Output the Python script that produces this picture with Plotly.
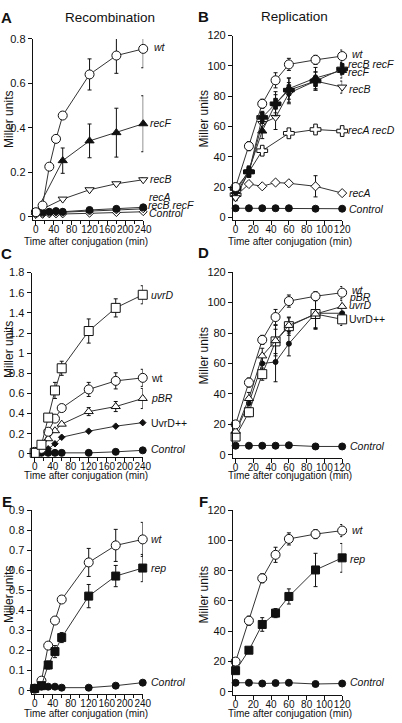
import plotly.graph_objects as go

W, H = 402, 723
FONT = "Liberation Sans, Arial, Helvetica, sans-serif"
INK = "#111111"
LINE = "#333333"

# ---------------- data ----------------
# Panel A : Recombination
tA = [0, 15, 30, 45, 60, 120, 180, 240]
tA_sparse = [0, 60, 120, 180, 240]
A_wt = [0.02, 0.05, 0.225, 0.35, 0.455, 0.64, 0.725, 0.755]
A_wt_err = [0, 0, 0, 0.005, 0.01, 0.07, 0.08, 0.085]
A_recF = [0.02, 0.252, 0.341, 0.378, 0.418]
A_recF_err = [0, 0.057, 0.076, 0.11, 0.126]
A_recB = [0.02, 0.079, 0.121, 0.148, 0.166]
A_recB_err = [0, 0.005, 0.005, 0.005, 0.008]
A_recA = [0.01, 0.015, 0.018, 0.02, 0.02, 0.025, 0.03, 0.035]
A_recBrecF = [0.015, 0.02, 0.022, 0.025, 0.022, 0.03, 0.035, 0.042]
A_control = [0.01, 0.01, 0.012, 0.012, 0.012, 0.015, 0.018, 0.022]

# Panel B : Replication
tB = [0, 15, 30, 45, 60, 90, 120]
tB_recArecD = [0, 15, 30, 60, 90, 120]
B_wt = [20, 47, 75, 90.5, 101, 104, 106.5]
B_wt_err = [1, 3, 3, 5, 4, 3, 4]
B_recBrecF = [19, 30, 66, 75, 84, 90, 98]
B_recBrecF_err = [2, 3, 4, 8, 8, 6, 4]
B_recF = [17, 31, 57, 75, 85, 92, 97]
B_recF_err = [2, 3, 5, 6, 7, 7, 5]
B_recB = [13, 30, 62, 66, 82, 90, 86]
B_recB_err = [2, 3, 4, 8, 7, 6, 4]
B_recArecD = [15, 30, 44, 55.5, 58, 57]
B_recArecD_err = [1, 2, 2, 3, 2, 2]
B_recA = [14, 22, 20.5, 23, 22.5, 20.5, 16]
B_recA_err = [1, 1, 1, 1, 1, 7, 1]
B_control = [6, 6, 6, 6, 6, 5.7, 5.7]

# Panel C
tC = [0, 15, 30, 45, 60, 120, 180, 240]
C_uvrD = [0.01, 0.09, 0.36, 0.63, 0.85, 1.22, 1.45, 1.58]
C_uvrD_err = [0, 0.01, 0.04, 0.08, 0.07, 0.12, 0.09, 0.09]
C_wt = [0.02, 0.05, 0.22, 0.35, 0.455, 0.64, 0.725, 0.755]
C_wt_err = [0, 0, 0.01, 0.01, 0.01, 0.07, 0.08, 0.085]
C_pBR = [0.01, 0.06, 0.15, 0.23, 0.295, 0.42, 0.47, 0.55]
C_pBR_err = [0, 0, 0.01, 0.01, 0.01, 0.04, 0.05, 0.1]
C_uvrDpp = [0.01, 0.02, 0.05, 0.1, 0.165, 0.225, 0.275, 0.31]
C_control = [0.01, 0.01, 0.01, 0.01, 0.01, 0.01, 0.02, 0.035]

# Panel D
tD = [0, 15, 30, 45, 60, 90, 120]
D_wt = [20, 47.5, 75.5, 90.5, 101, 104.2, 106.5]
D_wt_err = [1, 3, 3, 5, 4, 3, 4]
D_pBR = [15.5, 37, 65, 75, 85, 92.5, 97.5]
D_pBR_err = [1, 4, 5, 10, 5, 10, 4]
D_uvrD = [15, 34, 60, 61, 73, 93, 93]
D_uvrD_err = [1, 4, 6, 13, 8, 10, 3]
D_uvrDpp = [12, 28, 53, 74.5, 84.5, 92.5, 89]
D_uvrDpp_err = [1, 3, 4, 8, 6, 9, 4]
D_control = [6, 6, 6, 6, 6.3, 5.5, 5.5]

# Panel E
tE = [0, 15, 30, 45, 60, 120, 180, 240]
E_wt = [0.01, 0.05, 0.225, 0.35, 0.455, 0.64, 0.725, 0.755]
E_wt_err = [0, 0, 0.01, 0.01, 0.01, 0.07, 0.08, 0.085]
E_rep = [0.011, 0.025, 0.128, 0.195, 0.265, 0.472, 0.572, 0.612]
E_rep_err = [0, 0, 0.02, 0.03, 0.025, 0.058, 0.053, 0.068]
E_control = [0.012, 0.02, 0.02, 0.02, 0.015, 0.015, 0.025, 0.04]

# Panel F
tF = [0, 15, 30, 45, 60, 90, 120]
F_wt = [20, 47, 75, 90.5, 101, 104.2, 106.5]
F_wt_err = [1, 3, 3, 5, 4, 3, 4]
F_rep = [14, 27.5, 44.5, 52, 63, 80.5, 88.5]
F_rep_err = [1, 1.5, 4.5, 3, 5, 11, 9.5]
F_control = [6, 6, 5.5, 5.8, 6, 5.2, 5.5]

ticks_long = [0, 40, 80, 120, 160, 200, 240]
ticks_short = [0, 20, 40, 60, 80, 100, 120]

# ---------------- layout helpers ----------------
panels = {
    1: dict(xr=[-7, 240], yr=[-0.015, 0.8], xmax=240, ymax=0.8, px=(36.7, 146.5), py=(213.3, 33.3),
            xt=ticks_long, yt=[0, 0.2, 0.4, 0.6, 0.8], minor=20),
    2: dict(xr=[-3, 120], yr=[-2, 120], xmax=120, ymax=120, px=(241, 350), py=(214, 30),
            xt=ticks_short, yt=ticks_short, minor=None),
    3: dict(xr=[-7, 240], yr=[-0.03, 1.8], xmax=240, ymax=1.8, px=(35.5, 146), py=(453.5, 270),
            xt=ticks_long, yt=[0, 0.2, 0.4, 0.6, 0.8, 1, 1.2, 1.4, 1.6, 1.8], minor=20),
    4: dict(xr=[-3, 120], yr=[-2, 120], xmax=120, ymax=120, px=(241, 350), py=(454.5, 269.5),
            xt=ticks_short, yt=ticks_short, minor=None),
    5: dict(xr=[-7, 240], yr=[-0.015, 0.9], xmax=240, ymax=0.9, px=(35.5, 146), py=(693.3, 510.7),
            xt=ticks_long, yt=[0, 0.1, 0.2, 0.3, 0.4, 0.5, 0.6, 0.7, 0.8, 0.9], minor=20),
    6: dict(xr=[-3, 120], yr=[-2, 120], xmax=120, ymax=120, px=(241, 350), py=(694.5, 510.5),
            xt=ticks_short, yt=ticks_short, minor=None),
}

layout = dict(
    width=W, height=H, margin=dict(l=0, r=0, t=0, b=0),
    paper_bgcolor="white", plot_bgcolor="white", showlegend=False,
    font=dict(family=FONT, size=11, color=INK),
)

for n, p in panels.items():
    bx = (p["px"][1] - p["px"][0]) / p["xmax"]
    left = p["px"][0] + bx * p["xr"][0]
    right = p["px"][0] + bx * p["xr"][1]
    by = (p["py"][0] - p["py"][1]) / p["ymax"]
    bottom = p["py"][0] - by * p["yr"][0]
    top = p["py"][0] - by * p["yr"][1]
    sfx = "" if n == 1 else str(n)
    xa = dict(domain=[left / W, right / W], range=p["xr"], anchor="y" + sfx,
              showline=True, linecolor=INK, linewidth=1, ticks="outside", ticklen=4,
              tickwidth=1, tickcolor=INK, tickvals=p["xt"], tickangle=0,
              ticklabelstandoff=-4,
              showgrid=False, zeroline=False,
              tickfont=dict(size=10, family=FONT, color=INK))
    if p["minor"]:
        xa["minor"] = dict(dtick=p["minor"], tick0=0, ticks="outside", ticklen=3, tickcolor=INK)
    ya = dict(domain=[1 - bottom / H, 1 - top / H], range=p["yr"], anchor="x" + sfx,
              showline=True, linecolor=INK, linewidth=1, ticks="outside", ticklen=4,
              tickwidth=1, tickcolor=INK, tickvals=p["yt"], showgrid=False, zeroline=False,
              tickfont=dict(size=11, family=FONT, color=INK))
    layout["xaxis" + sfx] = xa
    layout["yaxis" + sfx] = ya

fig = go.Figure()


def series(n, x, y, symbol, size, fill, err=None, lw=1):
    sfx = "" if n == 1 else str(n)
    tr = go.Scatter(
        x=x, y=y, mode="lines+markers", xaxis="x" + sfx, yaxis="y" + sfx,
        line=dict(color=LINE, width=lw), cliponaxis=False, hoverinfo="skip",
        marker=dict(symbol=symbol, size=size, color=fill, line=dict(color=INK, width=1)),
    )
    if err is not None:
        tr.error_y = dict(type="data", array=err, visible=True, color=INK, thickness=1, width=2)
    fig.add_trace(tr)


# Panel A
series(1, tA, A_control, "diamond", 6, "white")
series(1, tA, A_recA, "diamond", 6, "white")
series(1, tA, A_recBrecF, "circle", 7, INK)
series(1, tA_sparse, A_recB, "triangle-down", 8, "white", A_recB_err)
series(1, tA_sparse, A_recF, "triangle-up", 8, INK, A_recF_err)
series(1, tA, A_wt, "circle", 9, "white", A_wt_err)

# Panel B
series(2, tB, B_control, "circle", 7, INK)
series(2, tB, B_recA, "diamond", 7, "white", B_recA_err)
series(2, tB_recArecD, B_recArecD, "cross", 9, "white", B_recArecD_err)
series(2, tB, B_recB, "triangle-down", 8, "white", B_recB_err)
series(2, tB, B_recF, "triangle-up", 8, INK, B_recF_err)
series(2, tB, B_recBrecF, "cross", 9, INK, B_recBrecF_err)
series(2, tB, B_wt, "circle", 9, "white", B_wt_err)

# Panel C
series(3, tC, C_control, "circle", 7, INK)
series(3, tC, C_uvrDpp, "diamond", 5, INK)
series(3, tC, C_pBR, "triangle-up", 8, "white", C_pBR_err)
series(3, tC, C_wt, "circle", 9, "white", C_wt_err)
series(3, tC, C_uvrD, "square", 9, "white", C_uvrD_err)

# Panel D
series(4, tD, D_control, "circle", 7, INK)
series(4, tD, D_uvrD, "circle", 5, INK, D_uvrD_err)
series(4, tD, D_uvrDpp, "square", 9, "white", D_uvrDpp_err)
series(4, tD, D_pBR, "triangle-up", 8, "white", D_pBR_err)
series(4, tD, D_wt, "circle", 9, "white", D_wt_err)

# Panel E
series(5, tE, E_control, "circle", 7, INK)
series(5, tE, E_wt, "circle", 9, "white", E_wt_err)
series(5, tE, E_rep, "square", 8, INK, E_rep_err)

# Panel F
series(6, tF, F_control, "circle", 7, INK)
series(6, tF, F_rep, "square", 8, INK, F_rep_err)
series(6, tF, F_wt, "circle", 9, "white", F_wt_err)

ann = []
LAB = 10.5


def lab(n, text, y, shift=7, italic=True):
    sfx = "" if n == 1 else str(n)
    xmax = panels[n]["xmax"]
    ann.append(dict(x=xmax, y=y, xref="x" + sfx, yref="y" + sfx, text=f"<i>{text}</i>" if italic else text,
                    xanchor="left", yanchor="middle", xshift=shift, showarrow=False, borderpad=0,
                    font=dict(size=LAB, family=FONT, color=INK)))


# series labels
lab(1, "wt", 0.765, 10); lab(1, "recF", 0.422, 6); lab(1, "recB", 0.17, 6)
lab(1, "recA", 0.09, 5); lab(1, "recB recF", 0.052, 4); lab(1, "Control", 0.017, 5)
lab(2, "wt", 108, 9); lab(2, "recB recF", 101.5, 5); lab(2, "recF", 96, 5)
lab(2, "recB", 84.6, 6); lab(2, "recA recD", 57.4, 5); lab(2, "recA", 16.1, 6); lab(2, "Control", 5.2, 6)
lab(3, "uvrD", 1.58, 7); lab(3, "wt", 0.754, 7, False); lab(3, "pBR", 0.558, 7)
lab(3, "UvrD++", 0.305, 7, False); lab(3, "Control", 0.052, 7)
lab(4, "wt", 108.5, 9); lab(4, "pBR", 103.5, 6); lab(4, "uvrD", 98.5, 6)
lab(4, "UvrD++", 89.5, 6, False); lab(4, "Control", 5.5, 7)
lab(5, "wt", 0.758, 7); lab(5, "rep", 0.612, 7); lab(5, "Control", 0.041, 7)
lab(6, "wt", 107, 9); lab(6, "rep", 87.5, 7); lab(6, "Control", 6.3, 7)


def ptxt(x, y, text, size, **kw):
    d = dict(x=x / W, y=1 - y / H, xref="paper", yref="paper", text=text, showarrow=False,
             xanchor="center", yanchor="middle", font=dict(size=size, family=FONT, color=INK))
    d.update(kw)
    ann.append(d)


# panel letters
for letter, (lx, ly) in {"A": (7, 11.5), "B": (208, 11), "C": (7, 250.5),
                         "D": (208, 250), "E": (7, 502), "F": (208, 502)}.items():
    ptxt(lx, ly, f"<b>{letter}</b>", 15)

ptxt(112.5, 12, "Recombination", 13.5)
ptxt(301, 11, "Replication", 13.5)

for (x, y) in [(8.5, 115), (208.5, 114), (8.5, 348), (208.5, 354), (8.5, 596), (208.5, 596)]:
    ptxt(x, y, "Miller units", 12, textangle=-90)

for (x, y) in [(88, 238.5), (297, 238.5), (88, 475), (297, 475), (88, 716.5), (297, 716.5)]:
    ptxt(x, y, "Time after conjugation (min)", 10)

layout["annotations"] = ann
fig.update_layout(**layout)
fig.write_html(
    "out.html",
    config={"displayModeBar": False, "staticPlot": True},
    post_script="document.body.style.margin='0';document.body.style.overflow='hidden';",
)
